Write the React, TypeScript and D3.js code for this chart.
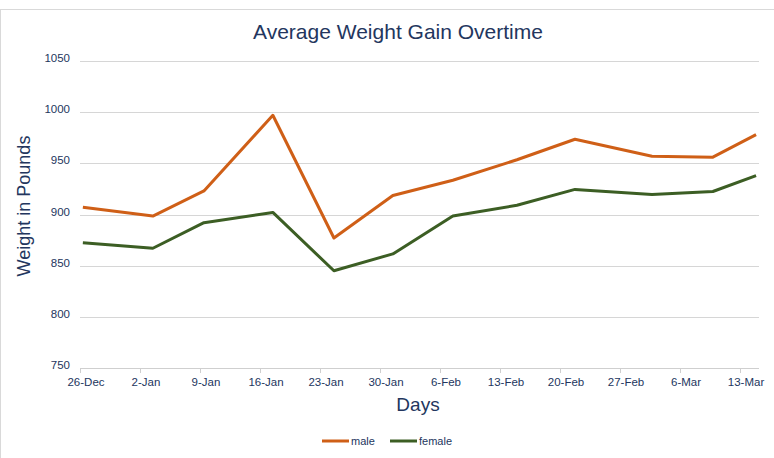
import React from "react";
import * as d3 from "d3";

const tickDates = ["2021-12-26", "2022-01-02", "2022-01-09", "2022-01-16", "2022-01-23", "2022-01-30", "2022-02-06", "2022-02-13", "2022-02-20", "2022-02-27", "2022-03-06", "2022-03-13"];
const pointDates = ["2021-12-26T08:00", "2022-01-03T12:00", "2022-01-09T11:00", "2022-01-17T12:00", "2022-01-24T15:00", "2022-01-31T12:00", "2022-02-07T12:00", "2022-02-14T23:30", "2022-02-21T18:00", "2022-03-02T17:30", "2022-03-09T20:00", "2022-03-14T21:00"];
const maleValues = [907, 898.5, 923, 997, 877, 918.5, 933.5, 953.5, 973.5, 957, 956, 978];
const femaleValues = [872.5, 867, 892, 902, 845, 861.5, 898.5, 909, 924.5, 919.5, 922.5, 938];
const yTicks = [750, 800, 850, 900, 950, 1000, 1050];
const seriesNames = ["male", "female"];
const seriesColors = ["#cf5f17", "#3c5e24"];

const W = 774;
const H = 458;
const textColor = "#23365e";
const font = "'Liberation Sans', Arial, Helvetica, sans-serif";

export default function App() {
  const parse = (s: string) => new Date(s);
  const x = d3
    .scaleTime()
    .domain([parse("2021-12-26T00:00"), parse("2022-03-13T00:00")])
    .range([80, 740]);
  const y = d3.scaleLinear().domain([750, 1050]).range([368, 61]);
  const series = [maleValues, femaleValues];
  const line = d3
    .line<number>()
    .x((_, i) => x(parse(pointDates[i])))
    .y((v) => y(v));
  const fmt = d3.timeFormat("%-d-%b");

  return (
    <div style={{ position: "absolute", left: 0, top: 0 }}>
      <svg width={W} height={H} style={{ display: "block", fontFamily: font }}>
        <rect x={0} y={0} width={W} height={H} fill="#fff" />
        <rect x={0.5} y={9.5} width={W + 2} height={H} fill="#fff" stroke="#d9d9d9" strokeWidth={1} />
        <text x={398} y={39} textAnchor="middle" fontSize={21} fill={textColor}>
          Average Weight Gain Overtime
        </text>
        {yTicks.map((t) => (
          <g key={t}>
            {t !== 750 && (
              <line x1={80} x2={759} y1={Math.round(y(t)) + 0.5} y2={Math.round(y(t)) + 0.5} stroke="#d6d6d6" strokeWidth={1} />
            )}
            <text x={70} y={y(t) + 1} textAnchor="end" fontSize={11.5} fill={textColor}>
              {t}
            </text>
          </g>
        ))}
        <line x1={80} x2={759} y1={368.5} y2={368.5} stroke="#cfcfcf" strokeWidth={1} />
        {tickDates.map((d) => {
          const xx = Math.round(x(parse(d + "T00:00"))) + 0.5;
          return (
            <g key={d}>
              <line x1={xx} x2={xx} y1={368} y2={373} stroke="#cfcfcf" strokeWidth={1} />
              <text x={xx + 5.5} y={386} textAnchor="middle" fontSize={11.5} fill={textColor}>
                {fmt(parse(d + "T00:00"))}
              </text>
            </g>
          );
        })}
        {series.map((vals, i) => (
          <path key={i} d={line(vals) || ""} fill="none" stroke={seriesColors[i]} strokeWidth={3} strokeLinejoin="round" />
        ))}
        <text x={418} y={411} textAnchor="middle" fontSize={19} fill={textColor}>
          Days
        </text>
        <text transform="translate(30,206) rotate(-90)" textAnchor="middle" fontSize={18} fill={textColor}>
          Weight in Pounds
        </text>
        {seriesNames.map((n, i) => {
          const lx = i === 0 ? 322 : 390;
          return (
            <g key={n}>
              <line x1={lx} x2={lx + 27} y1={441} y2={441} stroke={seriesColors[i]} strokeWidth={3} />
              <text x={lx + 29} y={445} fontSize={11} fill={textColor}>
                {n}
              </text>
            </g>
          );
        })}
      </svg>
    </div>
  );
}
